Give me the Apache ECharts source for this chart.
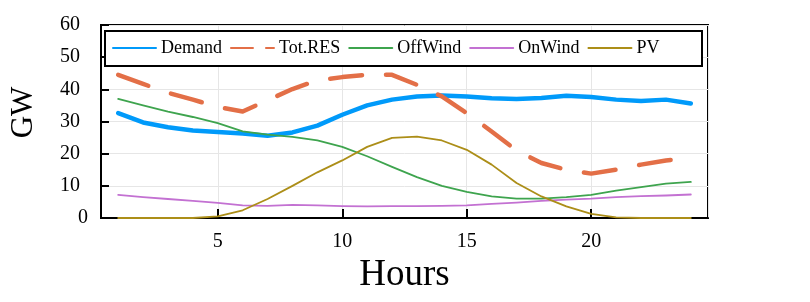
<!DOCTYPE html>
<html>
<head>
<meta charset="utf-8">
<script src="https://cdn.jsdelivr.net/npm/echarts@6/dist/echarts.min.js"></script>
<style>
html,body{margin:0;padding:0;background:#fff;}
#chart{width:810px;height:302px;}
</style>
</head>
<body>
<div id="chart"></div>
<script>
const hours = [1,2,3,4,5,6,7,8,9,10,11,12,13,14,15,16,17,18,19,20,21,22,23,24];
const demand = [32.6,29.7,28.2,27.2,26.7,26.3,25.6,26.6,28.7,32.1,35.0,36.8,37.8,38.1,37.8,37.2,37.0,37.3,38.0,37.6,36.8,36.4,36.8,35.6];
const totRES = [44.5,41.7,38.9,36.8,34.5,33.1,36.6,40.1,42.8,43.8,44.5,44.5,41.4,37.8,32.6,26.9,21.0,17.1,15.0,13.8,15.0,16.6,17.9,18.6];
const offWind = [37.0,35.0,33.1,31.4,29.5,26.9,25.9,25.2,24.1,22.1,19.2,15.9,12.7,10.0,8.1,6.7,6.0,6.0,6.5,7.2,8.5,9.6,10.7,11.2];
const onWind = [7.2,6.5,5.9,5.3,4.7,3.9,3.8,4.1,3.9,3.7,3.6,3.7,3.7,3.8,3.9,4.4,4.8,5.3,5.7,6.0,6.5,6.8,7.0,7.3];
const pv = [0,0,0,0,0.5,2.4,5.9,10.0,14.2,17.9,22.1,24.9,25.3,24.1,21.2,16.6,10.9,6.7,3.6,1.3,0.2,0,0,0];
const seriesNames = ['Demand','Tot.RES','OffWind','OnWind','PV'];
const yTicks = [0,10,20,30,40,50,60];

const FONT = '"Liberation Serif", "DejaVu Serif", serif';
const pair = arr => hours.map((h,i)=>[h, arr[i]]);

const chart = echarts.init(document.getElementById('chart'), null, {renderer:'canvas'});
function mk(name, data, color, width, dashed){
  return {
    name, type:'line', data: pair(data), symbol:'none', showSymbol:false,
    smooth:false, z: 2,
    lineStyle:{color, width, type: dashed ? [32,24] : 'solid', cap:'round', join:'round'},
    itemStyle:{color},
    emphasis:{disabled:true}
  };
}
const legendData = seriesNames.map(n => n === 'Tot.RES'
  ? {name:n, lineStyle:{type:[22,13], cap:'round'}}
  : {name:n});
chart.setOption({
  animation:false,
  backgroundColor:'#fff',
  grid:{left:98,right:102,top:25,bottom:84,show:true,borderColor:'#000',borderWidth:2,backgroundColor:'transparent'},
  graphic:[{type:'rect',shape:{x:105,y:31,width:597,height:35},style:{fill:'#fff',stroke:'#000',lineWidth:2},z:5}],
  legend:{
    data: legendData, left:112, top:39, padding:0, z:10,
    itemWidth:43, itemHeight:14, itemGap:8,
    itemStyle:{opacity:0, borderWidth:0},
    textStyle:{fontFamily:FONT,fontSize:18,color:'#000'}
  },
  xAxis:{
    type:'value', min:0.31, max:24.69, splitNumber:5,
    name:'Hours', nameLocation:'middle', nameGap:35,
    nameTextStyle:{fontFamily:FONT,fontSize:37,color:'#000'},
    axisLine:{show:true,lineStyle:{color:'#000',width:2}},
    axisTick:{show:true,inside:true,length:9,lineStyle:{color:'#000',width:2}},
    axisLabel:{fontFamily:FONT,fontSize:20,color:'#000',margin:14,
      formatter:v=> (Math.abs(v%5)<1e-9 ? String(v) : ''), showMinLabel:false, showMaxLabel:false},
    splitLine:{show:true,lineStyle:{color:'#e6e6e6',width:1}}
  },
  yAxis:{
    type:'value', min:yTicks[0], max:yTicks[yTicks.length-1], interval:10,
    name:'GW', nameLocation:'middle', nameGap:62, nameRotate:90,
    nameTextStyle:{fontFamily:FONT,fontSize:31,color:'#000',padding:[0,0,0,18]},
    axisLine:{show:true,lineStyle:{color:'#000',width:2}},
    axisTick:{show:true,inside:true,length:8,lineStyle:{color:'#000',width:2}},
    axisLabel:{fontFamily:FONT,fontSize:20,color:'#000',margin:13,
      formatter:v=> v===0 ? '0' : '{a|'+v+'}',
      rich:{a:{fontFamily:FONT,fontSize:20,color:'#000',padding:[0,8,0,0]}}},
    splitLine:{show:true,lineStyle:{color:'#e6e6e6',width:1}}
  },
  series:[
    mk('Demand', demand, '#009AFA', 4.5, false),
    mk('Tot.RES', totRES, '#E36F47', 4.5, true),
    mk('OffWind', offWind, '#3EA44E', 1.8, false),
    mk('OnWind', onWind, '#C371D2', 1.8, false),
    mk('PV', pv, '#AC8E18', 1.8, false)
  ]
});
</script>
</body>
</html>
